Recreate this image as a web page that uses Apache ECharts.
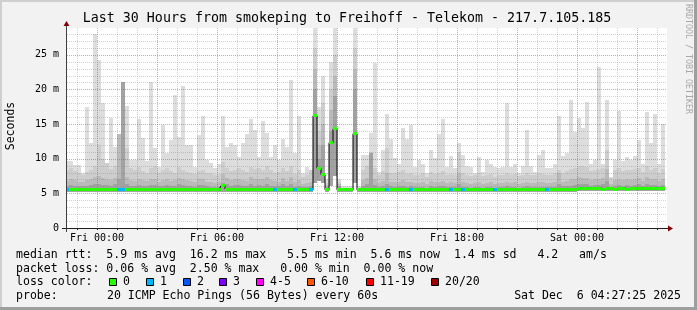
<!DOCTYPE html>
<html><head><meta charset="utf-8">
<script src="https://cdn.jsdelivr.net/npm/echarts@6/dist/echarts.min.js"></script>
<style>html,body{margin:0;padding:0;background:#f2f2f2;}#c{width:697px;height:310px;}</style>
</head><body><div id="c"></div>
<script>
// ---- data (hours since Thu 22:30, one column = 12 minutes) ----
const stepHours = 0.2;
const maxv = [
 9.7, 9.7, 9.1, 9.1, 8.0, 17.5, 12.2, 28.0, 24.2, 18.0,
 9.4, 15.9, 11.7, 13.6, 21.0, 17.6, 9.8, 9.8, 15.8, 13.0,
 9.6, 21.0, 11.5, 8.8, 14.9, 10.8, 12.7, 19.2, 13.2, 20.5,
 12.0, 12.0, 8.8, 13.4, 16.1, 9.8, 9.4, 8.6, 9.2, 16.1,
 11.7, 12.2, 12.0, 10.3, 12.2, 13.6, 15.8, 14.1, 10.3, 15.4,
 13.7, 10.3, 12.0, 9.8, 12.9, 11.7, 21.4, 10.8, 16.2, 8.0,
 8.8, 8.4, 28.9, 17.5, 22.0, 7.0, 24.0, 28.9, 7.0, 6.0,
 6.0, 6.0, 28.9, 6.0, 10.5, 10.5, 13.7, 23.8, 8.1, 11.3,
 16.5, 12.9, 10.1, 9.3, 14.4, 12.9, 14.9, 8.8, 9.8, 9.3,
 7.9, 11.3, 10.1, 13.6, 15.8, 8.8, 10.4, 8.6, 12.2, 10.6,
 9.0, 8.8, 7.9, 10.3, 8.1, 9.8, 9.3, 8.8, 8.6, 8.8,
 18.0, 8.8, 9.3, 7.9, 8.9, 14.1, 9.0, 8.1, 10.5, 11.3,
 8.6, 8.6, 9.3, 16.1, 10.4, 10.8, 18.5, 13.9, 15.9, 14.4,
 18.2, 9.3, 9.8, 23.3, 9.3, 18.5, 7.4, 9.8, 16.9, 9.7,
 10.3, 9.8, 10.4, 12.7, 9.2, 16.8, 12.2, 16.5, 9.3, 15.0];
const p3v = [
 8.3, 8.6, 8.2, 7.9, 7.6, 8.1, 8.4, 9.0, 12.0, 10.0,
 9.4, 8.5, 9.0, 8.0, 9.0, 11.5, 8.6, 8.3, 8.8, 8.2,
 8.0, 8.7, 8.9, 7.9, 8.3, 8.6, 8.2, 8.0, 8.8, 8.4,
 8.1, 8.0, 7.8, 8.2, 8.4, 8.0, 7.9, 7.7, 7.8, 9.5,
 8.6, 8.2, 8.4, 8.7, 8.3, 8.1, 8.8, 8.5, 8.6, 8.4,
 8.9, 8.3, 8.0, 8.1, 8.7, 8.2, 8.9, 7.8, 8.3, 7.4,
 7.6, 8.4, 26.0, 14.0, 18.0, 6.5, 20.0, 25.0, 6.6, 5.8,
 5.8, 5.8, 26.0, 5.8, 8.4, 8.9, 11.0, 8.6, 7.6, 8.2,
 11.5, 8.0, 7.9, 8.1, 8.3, 7.8, 8.0, 7.7, 7.6, 8.0,
 7.4, 8.1, 7.8, 8.0, 8.2, 7.7, 7.8, 7.6, 11.0, 7.9,
 7.7, 7.5, 7.6, 7.9, 7.5, 7.6, 7.8, 7.4, 7.7, 7.6,
 8.0, 7.6, 7.8, 7.5, 7.7, 8.0, 7.6, 7.7, 7.9, 7.8,
 7.7, 7.6, 7.9, 8.4, 8.0, 8.2, 8.5, 8.6, 8.9, 9.0,
 8.8, 8.2, 8.4, 8.5, 8.6, 11.3, 7.2, 8.3, 8.6, 8.2,
 8.4, 8.3, 8.5, 8.7, 8.1, 8.9, 8.4, 8.6, 8.0, 8.5];
const p2v = [
 6.8, 7.0, 6.9, 6.7, 6.6, 6.9, 7.1, 7.3, 7.5, 7.2,
 7.0, 6.9, 7.2, 13.6, 7.5, 7.4, 6.9, 6.8, 7.0, 6.9,
 6.8, 7.1, 7.0, 6.7, 6.9, 7.0, 6.8, 6.9, 7.2, 7.0,
 6.9, 6.8, 6.6, 7.0, 7.1, 6.7, 6.6, 6.5, 6.6, 7.8,
 7.2, 6.9, 7.0, 7.1, 6.9, 6.8, 7.3, 7.0, 7.1, 7.0,
 7.4, 6.9, 6.8, 6.7, 7.2, 6.8, 7.3, 6.6, 6.9, 6.4,
 6.5, 6.7, 23.0, 12.0, 15.0, 6.2, 17.0, 22.0, 6.3, 5.7,
 5.7, 5.7, 23.0, 5.7, 6.9, 7.2, 10.8, 7.0, 6.5, 6.8,
 8.0, 6.7, 6.6, 6.7, 6.9, 6.6, 6.7, 6.5, 6.5, 6.6,
 6.4, 6.8, 6.6, 6.7, 6.8, 6.5, 6.6, 6.5, 8.0, 6.6,
 6.5, 6.4, 6.5, 6.6, 6.4, 6.5, 6.6, 6.4, 6.5, 6.5,
 6.7, 6.5, 6.6, 6.4, 6.5, 6.7, 6.5, 6.5, 6.6, 6.6,
 6.5, 6.5, 6.6, 8.0, 6.7, 6.8, 7.0, 7.1, 7.3, 7.2,
 7.2, 6.9, 7.0, 7.1, 7.2, 8.5, 6.4, 6.9, 7.1, 6.9,
 7.0, 6.9, 7.1, 7.2, 6.8, 7.3, 7.0, 7.1, 6.8, 7.0];
const p1v = [
 6.1, 6.2, 6.1, 6.0, 6.0, 6.1, 6.2, 6.3, 6.4, 6.2,
 6.2, 6.1, 6.3, 7.0, 21.0, 6.4, 6.1, 6.0, 6.2, 6.1,
 6.0, 6.2, 6.2, 6.0, 6.1, 6.2, 6.0, 6.1, 6.3, 6.2,
 6.1, 6.0, 5.9, 6.2, 6.2, 6.0, 5.9, 5.9, 5.9, 6.5,
 6.3, 6.1, 6.2, 6.2, 6.1, 6.0, 6.3, 6.1, 6.2, 6.1,
 6.4, 6.1, 6.0, 6.0, 6.3, 6.0, 6.3, 5.9, 6.1, 5.9,
 5.9, 6.0, 20.0, 10.0, 12.0, 5.9, 14.0, 19.0, 6.0, 5.6,
 5.6, 5.6, 20.0, 5.6, 6.1, 6.3, 10.8, 6.2, 5.9, 6.0,
 6.3, 6.0, 5.9, 6.0, 6.1, 5.9, 6.0, 5.9, 5.9, 5.9,
 5.8, 6.0, 5.9, 6.0, 6.0, 5.9, 5.9, 5.9, 6.3, 5.9,
 5.9, 5.8, 5.9, 5.9, 5.8, 5.9, 5.9, 5.8, 5.9, 5.9,
 6.0, 5.9, 5.9, 5.8, 5.9, 6.0, 5.9, 5.9, 5.9, 5.9,
 5.9, 5.9, 5.9, 6.3, 6.0, 6.0, 6.1, 6.2, 6.3, 6.3,
 6.3, 6.1, 6.2, 6.2, 6.3, 6.8, 5.9, 6.1, 6.2, 6.1,
 6.2, 6.1, 6.2, 6.3, 6.1, 6.3, 6.2, 6.2, 6.1, 6.2];
const minv = [
 5.2, 5.2, 5.2, 5.2, 5.2, 5.2, 5.2, 5.2, 5.2, 5.2,
 5.2, 5.2, 5.2, 5.2, 5.2, 5.2, 5.2, 5.2, 5.2, 5.2,
 5.2, 5.2, 5.2, 5.2, 5.2, 5.2, 5.2, 5.2, 5.2, 5.2,
 5.2, 5.2, 5.2, 5.2, 5.2, 5.2, 5.2, 5.2, 5.2, 5.2,
 5.2, 5.2, 5.2, 5.2, 5.2, 5.2, 5.2, 5.2, 5.2, 5.2,
 5.2, 5.2, 5.2, 5.2, 5.2, 5.2, 5.2, 5.2, 5.2, 5.2,
 5.2, 5.2, 6.5, 6.8, 6.5, 5.2, 6.0, 7.5, 5.2, 5.2,
 5.2, 5.2, 6.5, 5.2, 5.2, 5.2, 5.2, 5.2, 5.2, 5.2,
 5.2, 5.2, 5.2, 5.2, 5.2, 5.2, 5.2, 5.2, 5.2, 5.2,
 5.2, 5.2, 5.2, 5.2, 5.2, 5.2, 5.2, 5.2, 5.2, 5.2,
 5.2, 5.2, 5.2, 5.2, 5.2, 5.2, 5.2, 5.2, 5.2, 5.2,
 5.2, 5.2, 5.2, 5.2, 5.2, 5.2, 5.2, 5.2, 5.2, 5.2,
 5.2, 5.2, 5.2, 5.2, 5.2, 5.2, 5.2, 5.2, 5.3, 5.3,
 5.3, 5.3, 5.3, 5.3, 5.3, 5.3, 5.3, 5.3, 5.3, 5.3,
 5.3, 5.3, 5.3, 5.3, 5.3, 5.3, 5.3, 5.3, 5.3, 5.3];
const medv = [
 5.55, 5.55, 5.55, 5.55, 5.55, 5.6, 5.55, 5.55, 5.55, 5.6,
 5.6, 5.55, 5.6, 5.55, 5.55, 5.6, 5.55, 5.55, 5.55, 5.6,
 5.55, 5.6, 5.55, 5.55, 5.55, 5.6, 5.55, 5.55, 5.6, 5.55,
 5.55, 5.6, 5.55, 5.55, 5.55, 5.6, 5.55, 5.55, 5.55, 6.1,
 5.6, 5.55, 5.55, 5.55, 5.6, 5.55, 5.55, 5.55, 5.55, 5.6,
 5.55, 5.55, 5.55, 5.55, 5.55, 5.55, 5.6, 5.55, 5.55, 5.55,
 5.55, 5.5, 16.2, 8.6, 7.7, 5.5, 12.3, 14.3, 5.5, 5.5,
 5.5, 5.5, 13.6, 5.5, 5.55, 5.55, 5.6, 5.55, 5.55, 5.55,
 5.55, 5.55, 5.6, 5.55, 5.55, 5.55, 5.55, 5.55, 5.6, 5.55,
 5.55, 5.55, 5.55, 5.55, 5.55, 5.6, 5.55, 5.55, 5.55, 5.55,
 5.55, 5.55, 5.55, 5.6, 5.6, 5.55, 5.55, 5.55, 5.55, 5.55,
 5.55, 5.55, 5.55, 5.55, 5.55, 5.55, 5.55, 5.55, 5.55, 5.55,
 5.55, 5.55, 5.55, 5.55, 5.55, 5.55, 5.55, 5.55, 5.75, 5.75,
 5.75, 5.75, 5.75, 5.75, 5.6, 5.75, 5.7, 5.6, 5.75, 5.75,
 5.6, 5.75, 5.75, 5.75, 5.7, 5.75, 5.75, 5.7, 5.75, 5.75];
const lossv = [
 1,0,0,0,0,0,0,0,0,0, 0,0,0,1,1,0,0,0,0,0, 0,0,0,0,0,0,0,0,0,0,
 0,0,0,0,0,0,0,0,0,0, 0,0,0,0,0,0,0,0,0,0, 0,0,1,0,0,0,0,1,0,0,
 0,1,0,0,0,0,0,0,0,0, 0,0,0,0,0,0,0,0,0,0, 1,0,0,0,0,0,1,0,0,0,
 0,0,0,0,0,0,1,0,0,1, 0,0,0,0,0,0,0,1,0,0, 0,0,0,0,0,0,0,0,0,0,
 1,0,0,0,0,0,0,0,0,0, 0,0,0,0,0,0,0,0,0,0, 0,0,0,0,0,0,0,0,0,0];
const xLabelHours = [1.5, 7.5, 13.5, 19.5, 25.5];
const xLabelText = ['Fri 00:00', 'Fri 06:00', 'Fri 12:00', 'Fri 18:00', 'Sat 00:00'];
const yMax = 28.86;
const lossBuckets = ['0', '1', '2', '3', '4-5', '6-10', '11-19', '20/20'];
const lossColors = ['#26ff00', '#00b8ff', '#0059ff', '#7f00ff', '#ff00ff', '#ff5500', '#ff0000', '#a10000'];
const legendLines = [
  'median rtt:  5.9 ms avg  16.2 ms max   5.5 ms min  5.6 ms now  1.4 ms sd   4.2   am/s',
  'packet loss: 0.06 % avg  2.50 % max   0.00 % min  0.00 % now'
];
const probeText = '20 ICMP Echo Pings (56 Bytes) every 60s';
const dateText = 'Sat Dec  6 04:27:25 2025';

// ---- build ----
const MONO = '"DejaVu Sans Mono", monospace';
const times = maxv.map((_, i) => i * stepHours);
const smokeData = times.map((t, i) => [t, minv[i], p1v[i], p2v[i], p3v[i], maxv[i]]);
const medData = times.map((t, i) => [t, medv[i], lossv[i]]);
const bandColors = ['#a2a2a2', '#bababa', '#cdcdcd', '#dddddd'];

function colRange(api, params, t) {
  const cs = params.coordSys;
  const w = api.size([stepHours, 0])[0];
  const xc = api.coord([t, 0])[0];
  let x0 = Math.round(xc - w / 2), x1 = Math.round(xc + w / 2);
  x0 = Math.max(x0, cs.x); x1 = Math.min(x1, cs.x + cs.width);
  return [x0, x1];
}

// grid line positions: [orientation (0 = vertical, 1 = horizontal), major?, value]
const gridData = [];
for (let h = 0.5; h < 30; h += 1) {
  const major = Math.abs(((h - 1.5) % 3 + 3) % 3) < 1e-6 ? 1 : 0;
  gridData.push([0, major, h]);
}
for (let v = 1; v < yMax; v += 1) gridData.push([1, v % 5 === 0 ? 1 : 0, v]);
const tickHours = gridData.filter(d => d[0] === 0).map(d => d[2]);

const gfx = [];
gfx.push({ type: 'rect', shape: { x: 0, y: 0, width: 697, height: 2 }, style: { fill: '#cfcfcf' }, z: 100 });
gfx.push({ type: 'rect', shape: { x: 0, y: 0, width: 2, height: 310 }, style: { fill: '#cfcfcf' }, z: 100 });
gfx.push({ type: 'rect', shape: { x: 0, y: 307, width: 697, height: 3 }, style: { fill: '#9e9e9e' }, z: 100 });
gfx.push({ type: 'rect', shape: { x: 694, y: 0, width: 3, height: 310 }, style: { fill: '#9e9e9e' }, z: 100 });
gfx.push({ type: 'line', shape: { x1: 62, y1: 228.5, x2: 669, y2: 228.5 }, style: { stroke: '#202020', lineWidth: 1 }, z: 50 });
gfx.push({ type: 'line', shape: { x1: 66.5, y1: 232, x2: 66.5, y2: 25 }, style: { stroke: '#404040', lineWidth: 1 }, z: 50 });
gfx.push({ type: 'polygon', shape: { points: [[668, 225.5], [673, 228.5], [668, 231.5]] }, style: { fill: '#7f0000' }, z: 51 });
gfx.push({ type: 'polygon', shape: { points: [[63.5, 26], [66.5, 21], [69.5, 26]] }, style: { fill: '#7f0000' }, z: 51 });
gfx.push({ type: 'text', x: 347, y: 19, style: { text: 'Last 30 Hours from smokeping to Freihoff - Telekom - 217.7.105.185', font: '13.3px ' + MONO, fill: '#000', align: 'center', verticalAlign: 'middle' }, z: 60 });
gfx.push({ type: 'text', x: 11, y: 126, rotation: Math.PI / 2, style: { text: 'Seconds', font: '11.5px ' + MONO, fill: '#000', align: 'center', verticalAlign: 'middle' }, z: 60 });
gfx.push({ type: 'text', x: 688, y: 4, rotation: -Math.PI / 2, style: { text: 'RRDTOOL / TOBI OETIKER', font: '8.3px ' + MONO, fill: '#a8a8a8', align: 'left', verticalAlign: 'middle' }, z: 60 });
const legY = [255, 268.5, 282, 295.5];
const LF = '11.55px ' + MONO;
legendLines.forEach((s, i) => gfx.push({ type: 'text', x: 16, y: legY[i], style: { text: s, font: LF, fill: '#000', align: 'left', verticalAlign: 'middle' }, z: 60 }));
gfx.push({ type: 'text', x: 16, y: legY[2], style: { text: 'loss color:', font: LF, fill: '#000', align: 'left', verticalAlign: 'middle' }, z: 60 });
const swX = [109, 146, 183, 219, 256, 307, 366, 431];
const lbX = [123, 160, 197, 233, 270, 321, 380, 445];
lossBuckets.forEach((b, i) => {
  gfx.push({ type: 'rect', shape: { x: swX[i] + 0.5, y: 278.5, width: 7, height: 7 }, style: { fill: lossColors[i], stroke: '#000', lineWidth: 1 }, z: 60 });
  gfx.push({ type: 'text', x: lbX[i], y: legY[2], style: { text: b, font: LF, fill: '#000', align: 'left', verticalAlign: 'middle' }, z: 60 });
});
gfx.push({ type: 'text', x: 16, y: legY[3], style: { text: 'probe:', font: LF, fill: '#000', align: 'left', verticalAlign: 'middle' }, z: 60 });
gfx.push({ type: 'text', x: 107, y: legY[3], style: { text: probeText, font: LF, fill: '#000', align: 'left', verticalAlign: 'middle' }, z: 60 });
gfx.push({ type: 'text', x: 681, y: legY[3], style: { text: dateText, font: LF, fill: '#000', align: 'right', verticalAlign: 'middle' }, z: 60 });

const chart = echarts.init(document.getElementById('c'), null, { renderer: 'canvas' });
chart.setOption({
  animation: false,
  backgroundColor: '#f2f2f2',
  grid: { left: 67, top: 28, width: 600, height: 200, show: true, backgroundColor: '#ffffff', borderWidth: 0 },
  xAxis: {
    type: 'value', min: 0, max: 30,
    axisLine: { show: false },
    axisTick: { show: true, customValues: tickHours, length: 2, lineStyle: { color: '#202020' } },
    axisLabel: {
      customValues: xLabelHours, margin: 5,
      formatter: v => { const k = xLabelHours.findIndex(h => Math.abs(h - v) < 1e-6); return k >= 0 ? xLabelText[k] : ''; },
      fontFamily: MONO, fontSize: 10, color: '#000'
    },
    splitLine: { show: false }
  },
  yAxis: {
    type: 'value', min: 0, max: yMax, interval: 1,
    axisLine: { show: false },
    axisTick: { show: false },
    axisLabel: {
      margin: 8, fontFamily: MONO, fontSize: 10, color: '#000', showMaxLabel: false,
      formatter: v => (Math.abs(v % 5) < 1e-6 ? (v === 0 ? '0' : v + ' m') : '')
    },
    splitLine: { show: false }
  },
  graphic: gfx,
  series: [
    {
      type: 'custom', z: 2, data: smokeData, silent: true,
      renderItem: (params, api) => {
        const t = api.value(0);
        const [x0, x1] = colRange(api, params, t);
        if (x1 <= x0) return null;
        const top = api.value(5);
        const lv = [api.value(1), api.value(2), api.value(3), api.value(4), top];
        const children = [];
        let prev = Math.min(lv[0], top);
        for (let b = 0; b < 4; b++) {
          const hi = Math.min(Math.max(lv[b + 1], prev), top);
          const ylo = Math.round(api.coord([t, prev])[1]);
          const yhi = Math.round(api.coord([t, hi])[1]);
          if (ylo > yhi) children.push({ type: 'rect', shape: { x: x0, y: yhi, width: x1 - x0, height: ylo - yhi }, style: { fill: bandColors[b] } });
          prev = hi;
        }
        return { type: 'group', children };
      }
    },
    {
      type: 'custom', z: 3, data: gridData, silent: true,
      renderItem: (params, api) => {
        const cs = params.coordSys;
        const vertical = api.value(0) === 0, major = api.value(1) === 1, v = api.value(2);
        const stroke = major ? 'rgba(235,50,50,0.5)' : 'rgba(130,130,130,0.36)';
        let shape;
        if (vertical) {
          const x = Math.round(api.coord([v, 0])[0]) + 0.5;
          shape = { x1: x, y1: cs.y, x2: x, y2: cs.y + cs.height };
        } else {
          const y = Math.round(api.coord([0, v])[1]) + 0.5;
          shape = { x1: cs.x, y1: y, x2: cs.x + cs.width, y2: y };
        }
        return { type: 'line', shape, style: { stroke, lineWidth: 1, lineDash: [1, 1] } };
      }
    },
    {
      type: 'line', z: 4, step: 'middle', data: medData.map(d => [d[0], d[1]]), showSymbol: false, silent: true,
      lineStyle: { color: '#000000', width: 1 }
    },
    {
      type: 'custom', z: 5, data: medData, silent: true,
      renderItem: (params, api) => {
        const t = api.value(0);
        const [x0, x1] = colRange(api, params, t);
        if (x1 <= x0) return null;
        const y = api.coord([t, api.value(1)])[1];
        return { type: 'rect', shape: { x: x0, y: Math.round(y - 1.5), width: x1 - x0, height: 3 }, style: { fill: lossColors[api.value(2)] } };
      }
    }
  ]
});
</script></body></html>
